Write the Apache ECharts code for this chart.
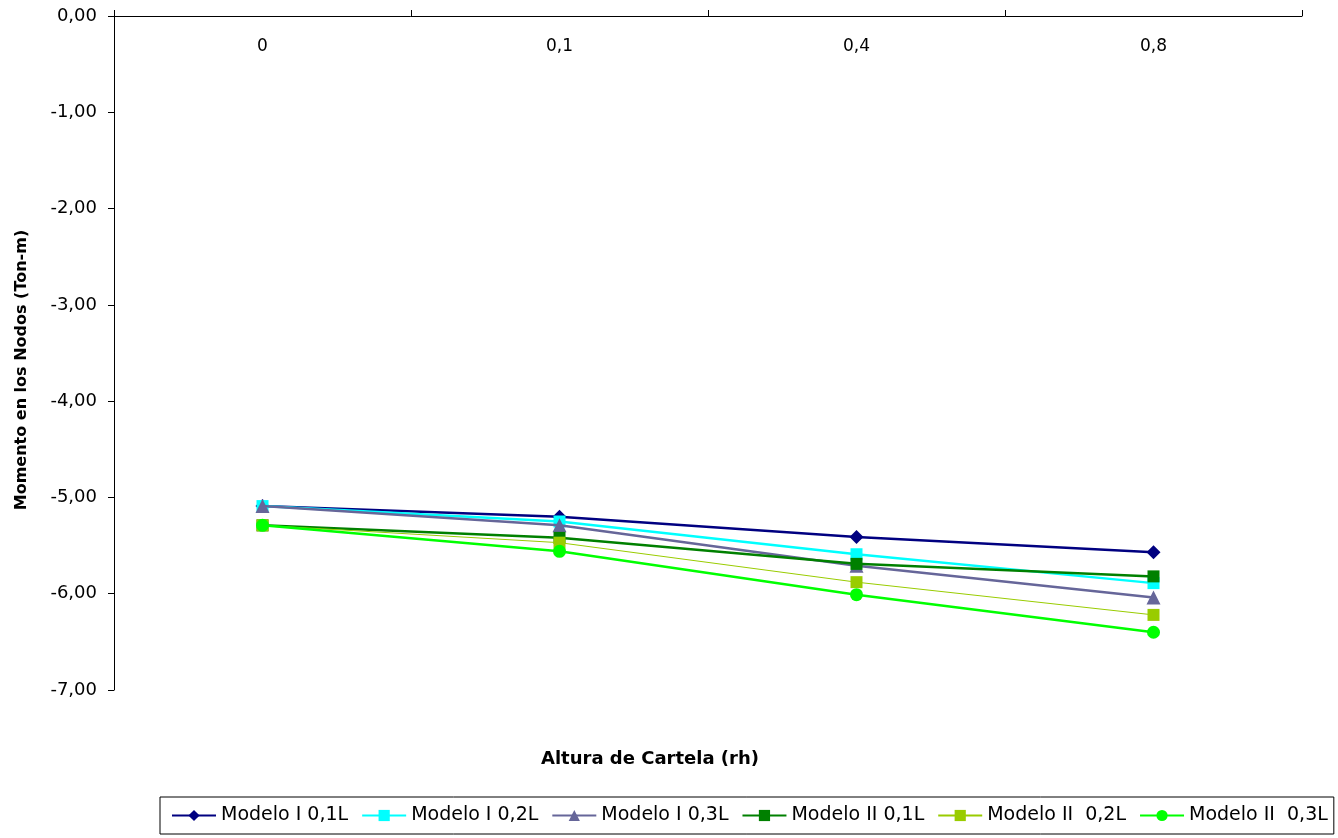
<!DOCTYPE html>
<html><head><meta charset="utf-8">
<script src="https://cdn.jsdelivr.net/npm/echarts@6/dist/echarts.min.js"></script>
<style>html,body{margin:0;padding:0;background:#fff}#c{width:1338px;height:838px}</style>
</head><body><div id="c"></div>
<script>
const categories = ['0', '0,1', '0,4', '0,8'];
const seriesNames = ['Modelo I 0,1L', 'Modelo I 0,2L', 'Modelo I 0,3L', 'Modelo II 0,1L', 'Modelo II  0,2L', 'Modelo II  0,3L'];
const modeloI_01L = [-5.09, -5.20, -5.41, -5.57];
const modeloI_02L = [-5.09, -5.25, -5.59, -5.89];
const modeloI_03L = [-5.09, -5.29, -5.71, -6.04];
const modeloII_01L = [-5.29, -5.42, -5.69, -5.82];
const modeloII_02L = [-5.29, -5.47, -5.88, -6.22];
const modeloII_03L = [-5.29, -5.56, -6.01, -6.40];
const yTicks = {min: -7, max: 0, interval: 1};

const seriesData = [modeloI_01L, modeloI_02L, modeloI_03L, modeloII_01L, modeloII_02L, modeloII_03L];
const colors = ['#000080', '#00FFFF', '#666699', '#008000', '#99CC00', '#00FF00'];
const symbols = ['diamond', 'rect', 'triangle', 'rect', 'rect', 'circle'];
const widths = [2.5, 2.5, 2.5, 2.5, 1, 2.5];
const sizes = [14, 12, 14, 12, 12, 13];
const font = 'DejaVu Sans';

const chart = echarts.init(document.getElementById('c'));
chart.setOption({
  animation: false,
  textStyle: {fontFamily: font},
  grid: {left: 114, right: 36, top: 16, bottom: 148},
  xAxis: {
    type: 'category', data: categories, position: 'top', boundaryGap: true,
    axisLine: {lineStyle: {color: '#000', width: 1}},
    axisTick: {show: true, inside: false, length: 6, lineStyle: {color: '#000'}},
    axisLabel: {inside: true, margin: 22, color: '#000', fontSize: 17, fontFamily: font},
    splitLine: {show: false}
  },
  yAxis: {
    type: 'value', min: yTicks.min, max: yTicks.max, interval: yTicks.interval,
    axisLine: {show: true, lineStyle: {color: '#000', width: 1}},
    axisTick: {show: true, length: 6, lineStyle: {color: '#000'}},
    axisLabel: {color: '#000', fontSize: 18, margin: 17, fontFamily: font,
      formatter: v => v.toFixed(2).replace('.', ',')},
    splitLine: {show: false}
  },
  legend: {
    left: 160, top: 797, orient: 'horizontal',
    borderColor: '#000', borderWidth: 1, padding: [9, 6, 9, 11],
    itemWidth: 44, itemHeight: 14, itemGap: 13,
    textStyle: {fontSize: 19, color: '#000', fontFamily: font},
    data: seriesNames
  },
  graphic: [
    {type: 'text', x: 541, y: 750, style: {text: 'Altura de Cartela (rh)', font: 'bold 18px "DejaVu Sans"', fill: '#000'}},
    {type: 'text', x: 22, y: 370, rotation: Math.PI / 2, style: {text: 'Momento en los Nodos (Ton-m)', font: 'bold 16px "DejaVu Sans"', fill: '#000', align: 'center', verticalAlign: 'middle'}}
  ],
  series: seriesData.map((d, i) => ({
    name: seriesNames[i], type: 'line', data: d,
    symbol: symbols[i], symbolSize: sizes[i], showSymbol: true,
    lineStyle: {color: colors[i], width: widths[i]},
    itemStyle: {color: colors[i]},
    z: 2 + i
  }))
});
</script></body></html>
